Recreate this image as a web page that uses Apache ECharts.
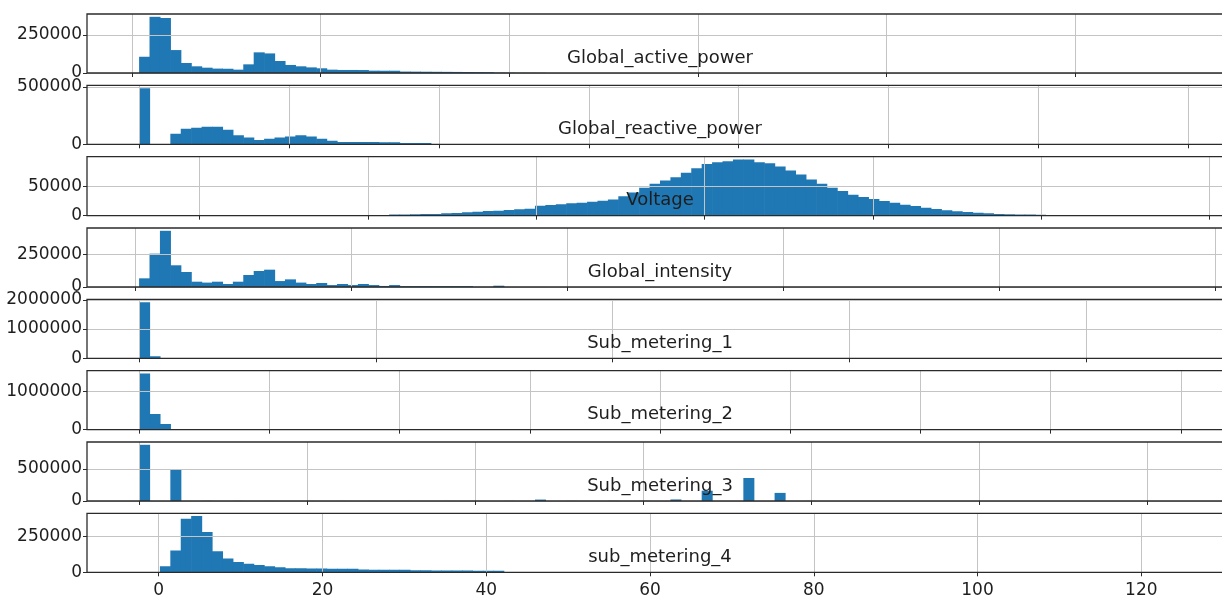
<!DOCTYPE html>
<html>
<head>
<meta charset="utf-8">
<script src="https://cdn.jsdelivr.net/npm/echarts@6/dist/echarts.min.js"></script>
<style>
  html, body { margin: 0; padding: 0; background: #ffffff; }
  #chart { width: 1222px; height: 597px; }
</style>
</head>
<body>
<div id="chart"></div>
<script>
// One histogram (100 equal bins) per column, stacked top to bottom.
const columns = ['Global_active_power', 'Global_reactive_power', 'Voltage', 'Global_intensity',
                 'Sub_metering_1', 'Sub_metering_2', 'Sub_metering_3', 'sub_metering_4'];

// Left edge of bin 0, bin width, and the index of the first bin listed in each counts array.
const binStart = [0.076, 0, 223.2, 0.2, 0, 0, 0, -2.4];
const binWidth = [0.11046, 0.0139, 0.3095, 0.482, 0.88, 0.8, 0.31, 1.2723];
const firstBin = [0, 0, 24, 0, 0, 0, 0, 2];

// Bin counts.
const activePowerCounts = [107000, 370000, 362000, 151000, 66000, 44000, 35000, 29000, 28000, 22000,
  57000, 136000, 129000, 79000, 53000, 44000, 37000, 31000, 22000, 20000,
  20000, 19500, 15500, 15000, 15000, 9500, 9000, 8500, 8000, 7500,
  7000, 6500, 6000, 5500, 2500, 2000, 1500, 1200, 1000];
const reactivePowerCounts = [489000, 0, 0, 92000, 135000, 144000, 152000, 152000, 126000, 78000,
  60000, 37000, 49000, 60000, 69000, 78000, 69000, 49000, 32000, 21000,
  20000, 20000, 19500, 19000, 18000, 11500, 11000, 10500, 3000, 2500,
  2000, 1500, 1000];
const voltageCounts = [1800, 1900, 2200, 2600, 3000, 3900, 4500, 5600, 6700, 7900,
  8400, 9600, 10700, 11800, 16900, 18000, 19100, 20800, 22000, 23600,
  25300, 27500, 33000, 39000, 47000, 54000, 59500, 65000, 72500, 80000,
  87500, 90500, 92200, 95000, 95000, 90500, 88800, 83200, 76400, 69700,
  61300, 54000, 47200, 41600, 35400, 31500, 28100, 24700, 21900, 18500,
  16300, 13500, 11200, 9000, 7300, 6200, 5100, 3900, 2800, 2200,
  1900, 1800, 1600];
const intensityCounts = [67000, 258000, 435000, 168000, 116000, 41000, 34000, 41000, 23000, 41000,
  93000, 124000, 134000, 46000, 59000, 34000, 23000, 31000, 15000, 23000,
  15000, 23000, 15000, 8000, 15000, 7000, 7000, 7000, 7000, 7000,
  7000, 7000, 1500, 1500, 10000, 800, 600, 500, 400];
const subMetering1Counts = [1920000, 68000, 15000, 8000, 5000, 3000, 2000];
const subMetering2Counts = [1457000, 405000, 147000, 9000, 6000, 4000];
const subMetering3Counts = [876000, 0, 0, 495000, 0, 0, 2000, 0, 0, 1500,
  0, 0, 1200, 0, 0, 0, 1000, 0, 0, 1000,
  0, 0, 1000, 0, 0, 1000, 0, 0, 0, 1200,
  0, 0, 1200, 0, 0, 1500, 0, 0, 22000, 0,
  0, 1500, 0, 0, 0, 2000, 0, 0, 2500, 0,
  0, 24000, 0, 0, 160000, 0, 0, 0, 358000, 0,
  0, 126000, 0, 0, 1500];
const subMetering4Counts = [41700, 153000, 375000, 394000, 282000, 148000, 97000, 72000, 60000, 51000,
  42000, 35000, 28500, 28000, 27500, 27000, 25500, 25000, 24500, 19000,
  18500, 18500, 18000, 17500, 14500, 14000, 13500, 13000, 12500, 12000,
  11500, 11000, 10500, 3000, 2000, 1500, 1000];

const binCounts = [activePowerCounts, reactivePowerCounts, voltageCounts, intensityCounts,
                   subMetering1Counts, subMetering2Counts, subMetering3Counts, subMetering4Counts];

// x-axis limits (data range plus 5% margins) and tick values per panel.
const xMin = [-0.4763, -0.0695, 221.6525, -2.21, -4.4, -4, -1.55, -8.76];
const xMax = [11.6743, 1.4595, 255.6975, 50.81, 92.4, 84, 32.55, 131.2];
const xTicks = [
  [0, 2, 4, 6, 8, 10],
  [0, 0.2, 0.4, 0.6, 0.8, 1.0, 1.2, 1.4],
  [225, 230, 235, 240, 245, 250, 255],
  [0, 10, 20, 30, 40, 50],
  [0, 20, 40, 60, 80],
  [0, 10, 20, 30, 40, 50, 60, 70, 80],
  [0, 5, 10, 15, 20, 25, 30],
  [0, 20, 40, 60, 80, 100, 120]
];
const yTicks = [
  [0, 250000], [0, 500000], [0, 50000], [0, 250000],
  [0, 1000000, 2000000], [0, 1000000], [0, 500000], [0, 250000]
];

// Layout and style.
const FONT = 'DejaVu Sans';
const TEXT = '#1e1e1e';
const FRAME = '#2b2b2b';
const GRIDLINE = '#c4c4c4';
const BAR = '#1f77b4';
const CANVAS_W = 1222;
const PANEL_LEFT = 87;
const PANEL_RIGHT_EDGE = 1233;
const PANEL_TOP0 = 14;
const PANEL_STEP = 71.33;
const PANEL_H = 59;
const PANEL_CENTER = (PANEL_LEFT + PANEL_RIGHT_EDGE) / 2;
const SEAM_OVERLAP = 0.6;   // px, hides anti-aliasing seams between neighbouring bins

function renderBin(params, api) {
  const x0 = api.value(0), x1 = api.value(1), c = api.value(2);
  const pTop = api.coord([x0, c]);
  const pBase = api.coord([x1, 0]);
  return {
    type: 'rect',
    shape: {
      x: pTop[0], y: pTop[1],
      width: pBase[0] - pTop[0] + SEAM_OVERLAP,
      height: pBase[1] - pTop[1]
    },
    style: { fill: BAR }
  };
}

const grids = [], xAxes = [], yAxes = [], series = [], titles = [];
columns.forEach((name, k) => {
  const top = PANEL_TOP0 + PANEL_STEP * k;
  const isLast = k === columns.length - 1;
  const counts = binCounts[k];

  grids.push({
    left: PANEL_LEFT, right: CANVAS_W - PANEL_RIGHT_EDGE, top: top, height: PANEL_H,
    containLabel: false, outerBoundsMode: 'none',
    show: true, borderColor: FRAME, borderWidth: 1.3, backgroundColor: 'transparent', z: 4
  });

  xAxes.push({
    type: 'value', gridIndex: k, min: xMin[k], max: xMax[k], z: 3, position: 'bottom',
    axisLine: { show: false, onZero: false },
    axisTick: { show: true, length: 4, customValues: xTicks[k], lineStyle: { color: FRAME, width: 1 } },
    axisLabel: {
      show: isLast, customValues: xTicks[k], margin: 10, color: TEXT,
      fontFamily: FONT, fontSize: 17, formatter: v => String(v)
    },
    splitLine: { show: true, lineStyle: { color: GRIDLINE, width: 1 } }
  });

  yAxes.push({
    type: 'value', gridIndex: k, min: 0, max: 1.05 * Math.max(...counts), z: 3, position: 'left',
    axisLine: { show: false, onZero: false },
    axisTick: { show: true, length: 4, customValues: yTicks[k], lineStyle: { color: FRAME, width: 1 } },
    axisLabel: {
      customValues: yTicks[k], margin: 5, color: TEXT,
      fontFamily: FONT, fontSize: 17, formatter: v => String(v)
    },
    splitLine: { show: true, lineStyle: { color: GRIDLINE, width: 1 } }
  });

  const data = [];
  counts.forEach((c, i) => {
    if (c > 0) {
      const x0 = binStart[k] + (firstBin[k] + i) * binWidth[k];
      data.push([x0, x0 + binWidth[k], c]);
    }
  });
  series.push({
    type: 'custom', name: name, xAxisIndex: k, yAxisIndex: k, clip: true,
    encode: { x: [0, 1], y: 2 }, renderItem: renderBin, data: data, z: 2, silent: true
  });

  titles.push({
    text: name, left: PANEL_CENTER, top: top + PANEL_H - 24, textAlign: 'center', padding: 0, z: 10,
    textStyle: { fontFamily: FONT, fontSize: 18, fontWeight: 'normal', color: TEXT }
  });
});

const chart = echarts.init(document.getElementById('chart'));
chart.setOption({
  animation: false,
  backgroundColor: '#ffffff',
  title: titles,
  grid: grids,
  xAxis: xAxes,
  yAxis: yAxes,
  series: series
});
</script>
</body>
</html>
